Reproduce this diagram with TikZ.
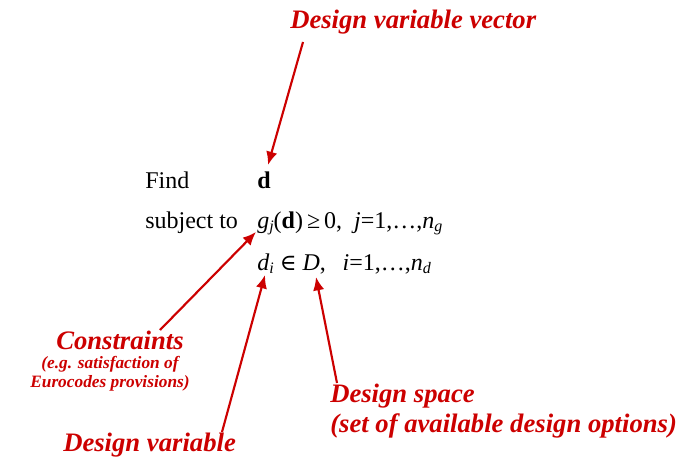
\documentclass[tikz,border=0pt]{standalone}
\usepackage{fontspec}
\setmainfont{Liberation Serif}
\newfontfamily\symfont{DejaVu Serif}
\usetikzlibrary{arrows.meta}
\definecolor{darkred}{RGB}{204,0,0}

\begin{document}
\begin{tikzpicture}[x=0.75pt,y=-0.75pt]
	\tikzstyle{eqn}=[anchor=base west,inner sep=0pt,font=\fontsize{18}{20}\selectfont]
	\tikzstyle{note}=[text=darkred,inner sep=0pt,font=\fontsize{20}{22}\selectfont\bfseries\itshape]
	\tikzstyle{smallnote}=[text=darkred,inner sep=0pt,align=center,font=\fontsize{13}{14.5}\selectfont\bfseries\itshape]
	\tikzstyle{pointer}=[draw=darkred,line width=1.6pt,-{Latex[length=10pt,width=8.5pt]}]
	\useasboundingbox (0,0) rectangle (681,464);
	% problem statement
	\node[eqn] (find) at (145,188) {Find};
	\node[eqn] (vec) at (257,188) {\textbf{d}};
	\node[eqn] (subj) at (145,228) {subject to};
	\node[eqn] (cons) at (257,228) {\textit{g}\raisebox{-0.35ex}{\fontsize{12}{12}\selectfont\textit{j}}(\textbf{d})\,≥\,0,\ \ \textit{j}=1,…,\textit{n}\raisebox{-0.35ex}{\fontsize{12}{12}\selectfont\textit{g}}};
	\node[eqn] (dom) at (257,270) {\textit{d}\raisebox{-0.35ex}{\fontsize{12}{12}\selectfont\textit{i}}\hspace{0.25em}{\symfont\fontsize{17}{18}\selectfont ∈}\hspace{0.25em}\textit{D},\ \ \hspace{0.2em}\textit{i}=1,…,\textit{n}\raisebox{-0.35ex}{\fontsize{12}{12}\selectfont\textit{d}}};
	% labels
	\node[note,anchor=west] (lvec) at (290,22) {Design variable vector};
	\node[note] (lcons) at (120,340) {Constraints};
	\node[smallnote,anchor=north] (lcons2) at (110,356) {(e.g. satisfaction of\\Eurocodes provisions)};
	\node[note,anchor=west] (lvar) at (63,445) {Design variable};
	\node[note,anchor=west,align=left] (lspace) at (330,411) {Design space\\(set of available design options)};
	% arrow ends
	\coordinate (a1) at (303,42);
	\coordinate (b1) at (268,165);
	\coordinate (a2) at (160,330);
	\coordinate (b2) at (256,232);
	\coordinate (a3) at (222,432);
	\coordinate (b3) at (265,275);
	\coordinate (a4) at (337,383);
	\coordinate (b4) at (316,277);
	\draw[pointer] (a1) -- (b1);
	\draw[pointer] (a2) -- (b2);
	\draw[pointer] (a3) -- (b3);
	\draw[pointer] (a4) -- (b4);
\end{tikzpicture}
\end{document}
